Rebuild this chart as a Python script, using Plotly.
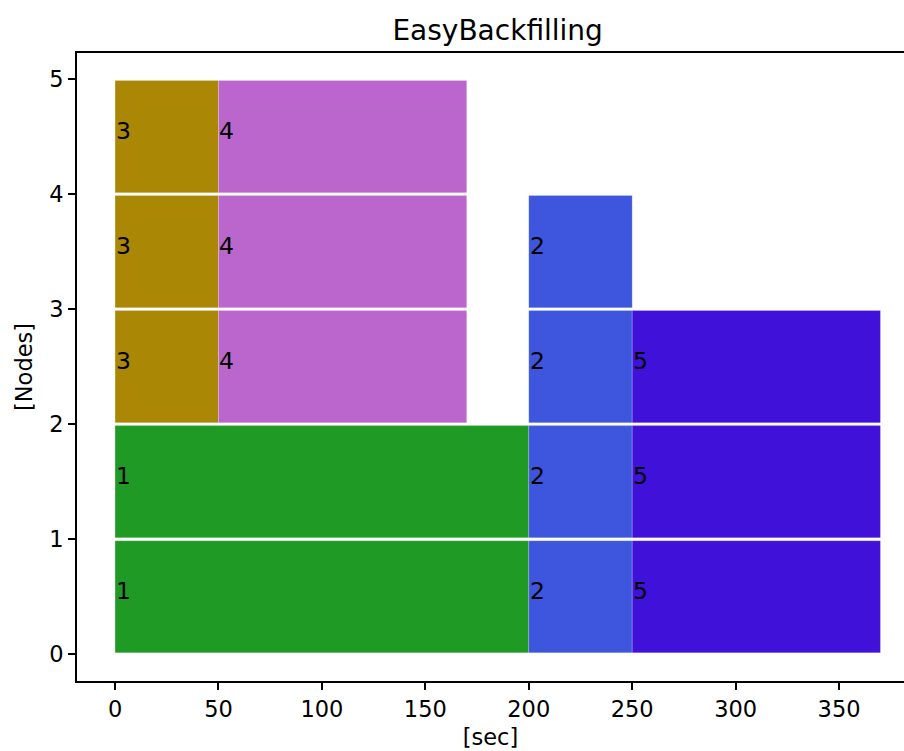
import plotly.graph_objects as go

# ---- data ----
job_ids = [1, 2, 3, 4, 5]
job_start = [0, 200, 0, 50, 250]
job_end = [200, 250, 50, 170, 370]
job_nodes = [[0, 1], [0, 1, 2, 3], [2, 3, 4], [2, 3, 4], [0, 1, 2]]
job_colors = ["#1f9a25", "#3d56dd", "#aa8805", "#bb66cc", "#4011d8"]
x_ticks = [0, 50, 100, 150, 200, 250, 300, 350]
y_ticks = [0, 1, 2, 3, 4, 5]

FONT = "DejaVu Sans"
fig = go.Figure()

for jid, s, e, nodes, col in zip(job_ids, job_start, job_end, job_nodes, job_colors):
    fig.add_trace(go.Bar(
        orientation="h",
        y=[n + 0.5 for n in nodes],
        x=[e - s] * len(nodes),
        base=[s] * len(nodes),
        width=0.975,
        marker=dict(color=col, line=dict(color="rgba(255,255,255,0.25)", width=0.8)),
        hoverinfo="skip",
        showlegend=False,
    ))
    for n in nodes:
        fig.add_annotation(
            x=s, y=n + 0.5, text=str(jid), showarrow=False,
            xanchor="left", yanchor="middle", xshift=-1, yshift=6,
            font=dict(family=FONT, size=23.5, color="black"),
        )

fig.update_layout(
    width=904, height=751,
    barmode="overlay",
    plot_bgcolor="white", paper_bgcolor="white",
    margin=dict(l=77, r=0, t=53, b=70),
    title=dict(text="EasyBackfilling", x=0.5505, xanchor="center", y=0.96, yanchor="middle",
               font=dict(family=FONT, size=28, color="black")),
    font=dict(family=FONT, size=22.5, color="black"),
    xaxis=dict(
        range=[-18.4, 381.4], tickvals=x_ticks, ticktext=[str(v) for v in x_ticks],
        automargin=False,
        showgrid=False, zeroline=False, showline=True, linecolor="black", linewidth=1.7,
        mirror=True, ticks="outside", ticklen=7, tickwidth=1.7, tickcolor="black",
        tickfont=dict(family=FONT, size=22.5, color="black"),
        title=dict(text="[sec]", font=dict(family=FONT, size=22.5, color="black"), standoff=8),
    ),
    yaxis=dict(
        range=[-0.232, 5.226], tickvals=y_ticks, ticktext=[str(v) for v in y_ticks],
        automargin=False,
        showgrid=False, zeroline=False, showline=True, linecolor="black", linewidth=1.7,
        mirror=False, ticks="outside", ticklen=7, tickwidth=1.7, tickcolor="black",
        tickfont=dict(family=FONT, size=22.5, color="black"),
        title=dict(text="[Nodes]", font=dict(family=FONT, size=22.5, color="black"), standoff=10),
    ),
)

fig.write_html(
    "out.html",
    config={"displayModeBar": False},
    post_script="document.body.style.margin='0';document.body.style.overflow='hidden';",
)
